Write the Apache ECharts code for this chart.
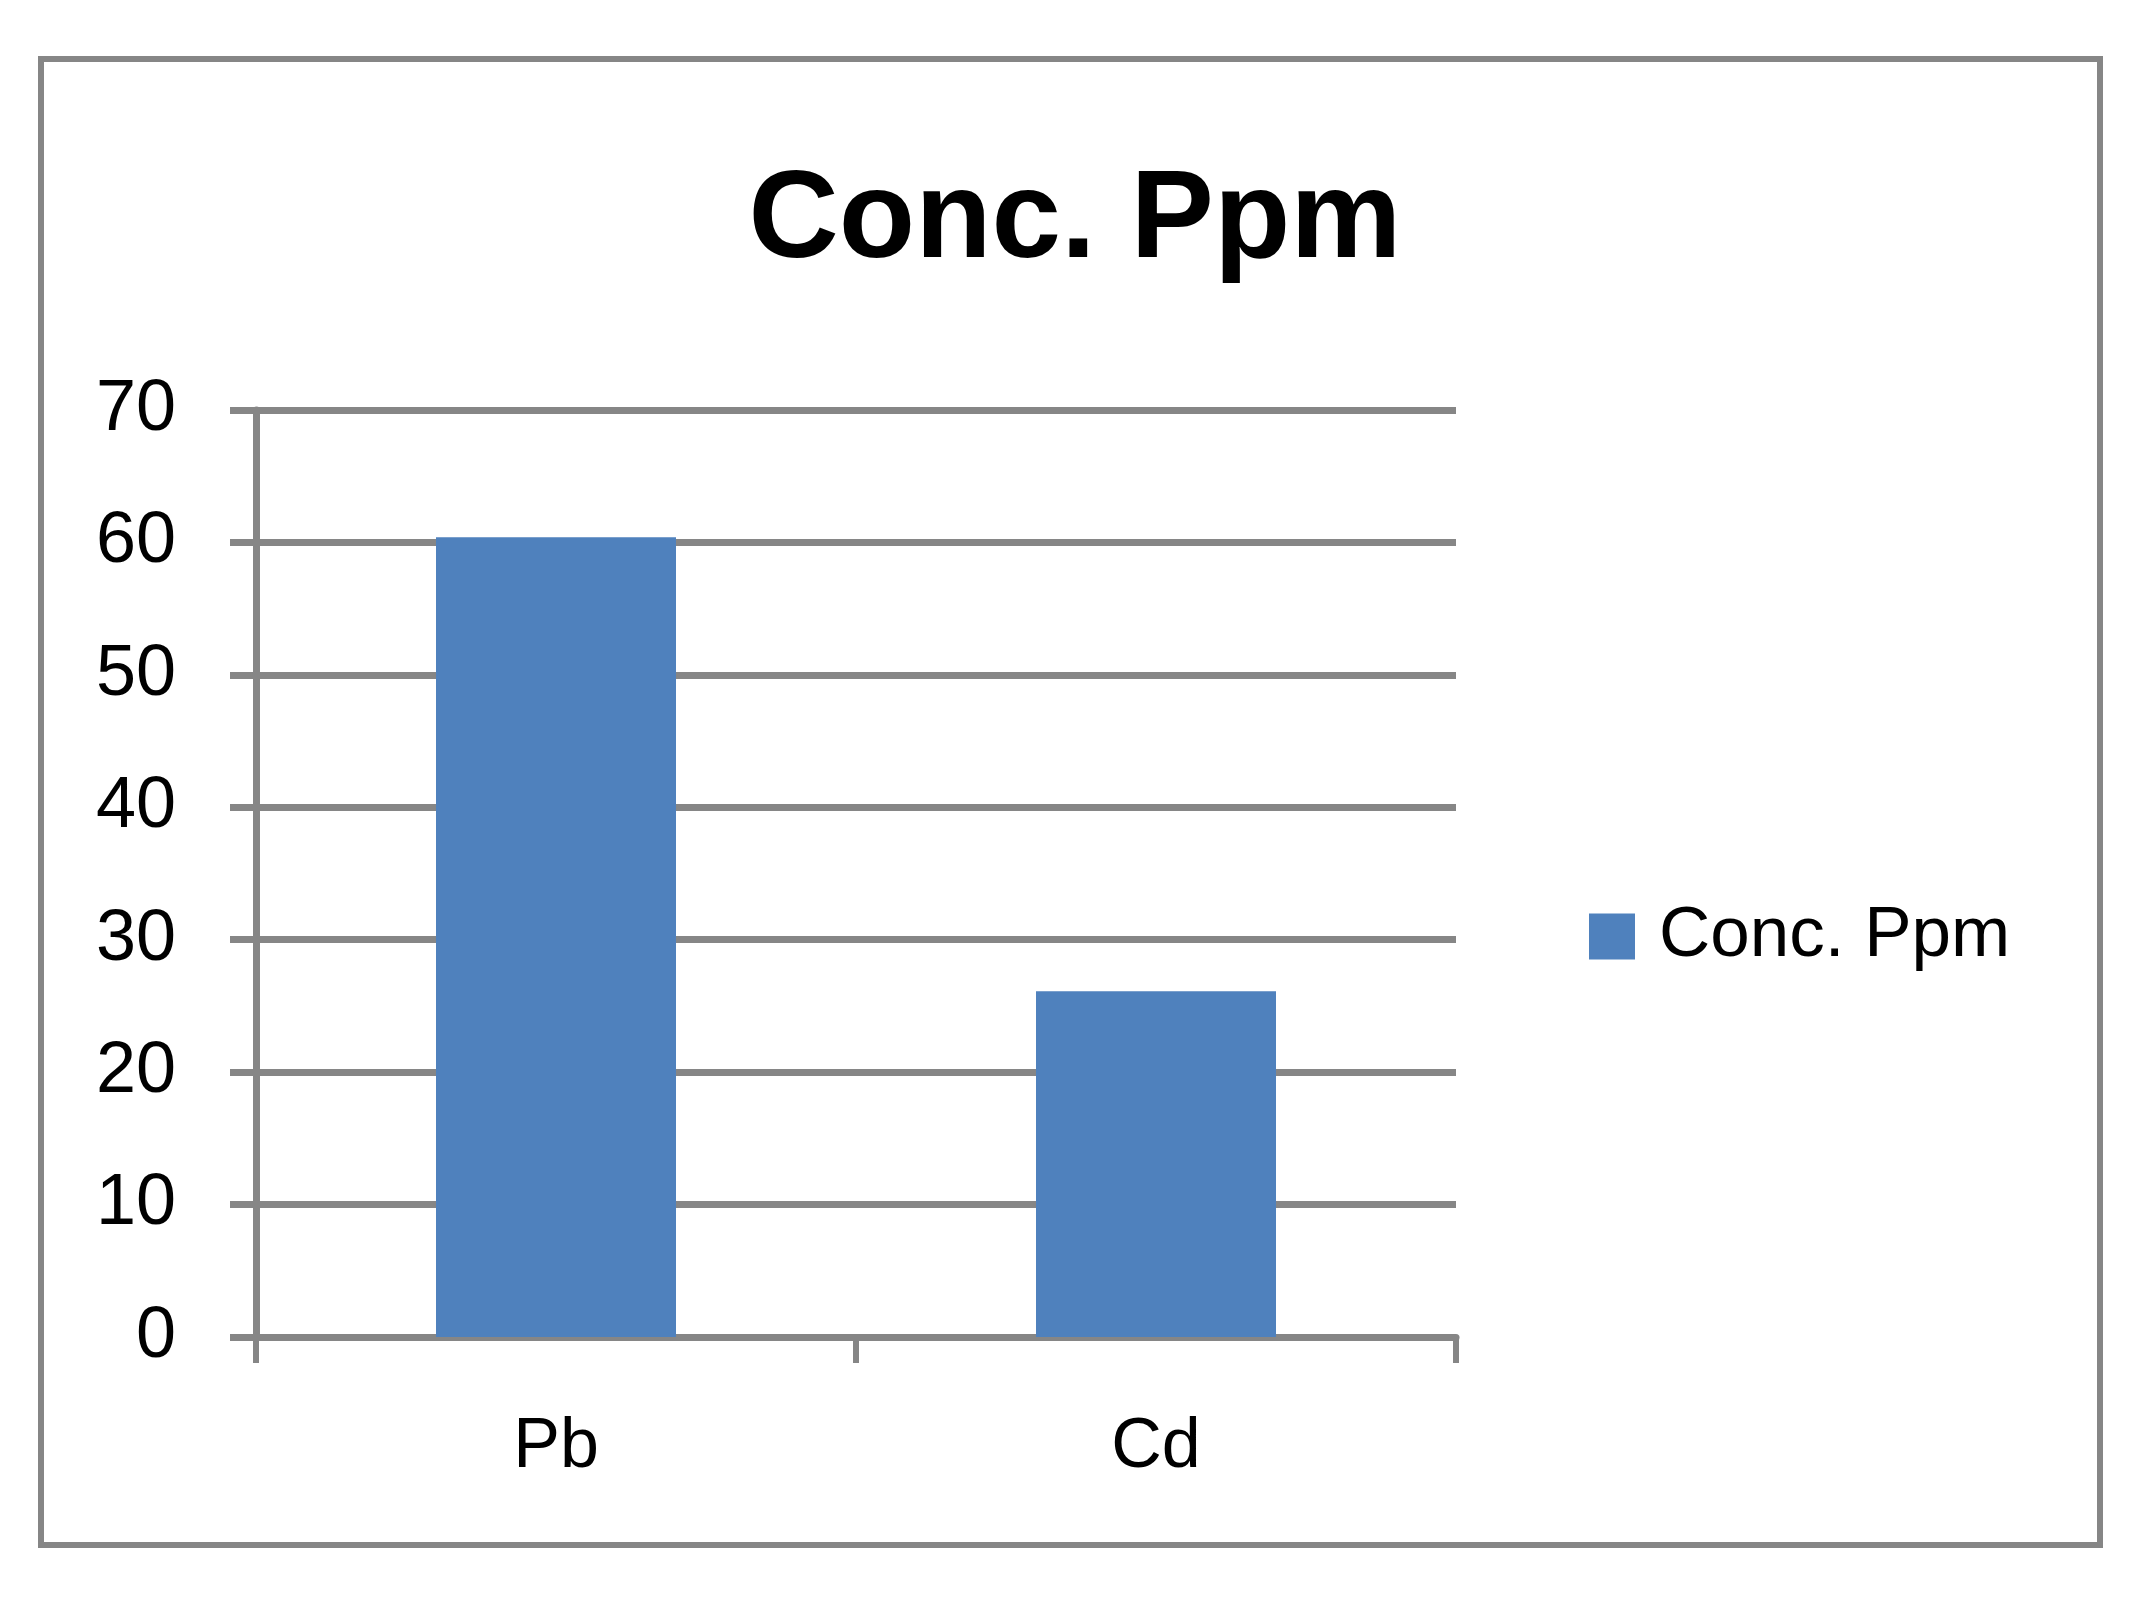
<!DOCTYPE html>
<html>
<head>
<meta charset="utf-8">
<script src="https://cdn.jsdelivr.net/npm/echarts@6/dist/echarts.min.js"></script>
<style>
html,body{margin:0;padding:0;background:#fff;}
#chart{width:2150px;height:1599px;}
</style>
</head>
<body>
<div id="chart"></div>
<script>
const titleText = 'Conc. Ppm';
const seriesName = 'Conc. Ppm';
const categories = ['Pb', 'Cd'];
const values = [60.4, 26.1];
const yMin = 0, yMax = 70, yInterval = 10;

const FONT = '"Liberation Sans", Arial, sans-serif';
const GRAY = '#868686';

const chart = echarts.init(document.getElementById('chart'), null, {renderer: 'canvas'});
chart.setOption({
  backgroundColor: '#ffffff',
  animation: false,
  graphic: [{
    type: 'rect',
    shape: {x: 41, y: 59, width: 2059, height: 1486},
    style: {fill: 'none', stroke: GRAY, lineWidth: 6},
    silent: true
  }],
  title: {
    text: titleText,
    left: 'center',
    top: 155,
    textStyle: {fontFamily: FONT, fontWeight: 'bold', fontSize: 125, lineHeight: 125, color: '#000'}
  },
  legend: {
    data: [seriesName],
    left: 1584,
    top: 896,
    icon: 'rect',
    itemWidth: 46,
    itemHeight: 46,
    textStyle: {fontFamily: FONT, fontSize: 71, lineHeight: 71, color: '#000', padding: [0, 0, 0, 19]}
  },
  grid: {left: 256, right: 694, top: 410, bottom: 262, containLabel: false},
  xAxis: {
    type: 'category',
    data: categories,
    boundaryGap: true,
    axisLine: {show: true, lineStyle: {color: GRAY, width: 7}},
    axisTick: {show: true, length: 26, lineStyle: {color: GRAY, width: 6}},
    axisLabel: {fontFamily: FONT, fontSize: 70, lineHeight: 70, color: '#000', margin: 76}
  },
  yAxis: {
    type: 'value',
    min: yMin, max: yMax, interval: yInterval,
    axisLine: {show: true, lineStyle: {color: GRAY, width: 7}},
    axisTick: {show: true, length: 26, lineStyle: {color: GRAY, width: 7}},
    axisLabel: {fontFamily: FONT, fontSize: 72, color: '#000', margin: 80},
    splitLine: {show: true, lineStyle: {color: GRAY, width: 7}}
  },
  series: [{
    name: seriesName,
    type: 'bar',
    data: values,
    barWidth: '40%',
    itemStyle: {color: '#4F81BD'}
  }]
});
</script>
</body>
</html>
